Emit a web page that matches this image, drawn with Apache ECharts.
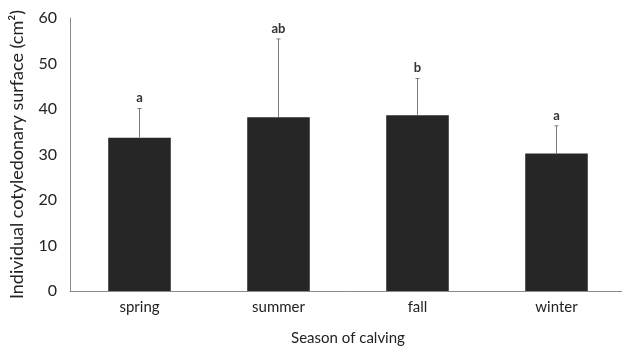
<!DOCTYPE html>
<html>
<head>
<meta charset="utf-8">
<script src="https://cdn.jsdelivr.net/npm/echarts@6/dist/echarts.min.js"></script>
<style>
  html, body { margin: 0; padding: 0; background: #fff; }
  #chart { width: 622px; height: 347px; }
</style>
</head>
<body>
<div id="chart"></div>
<script>
// Mean individual cotyledonary surface by season of calving, with SD and group letters
const seasons = ['spring', 'summer', 'fall', 'winter'];
const meanSurface = [33.7, 38.2, 38.6, 30.2];
const upperError = [40.1, 55.4, 46.7, 36.3];
const groupLetters = ['a', 'ab', 'b', 'a'];
const yTicks = [0, 10, 20, 30, 40, 50, 60];

const FONT = 'Lato, "Open Sans", sans-serif';
const AXIS_GREY = '#8a8a8a';

const chart = echarts.init(document.getElementById('chart'), null, { renderer: 'canvas' });

chart.setOption({
  animation: false,
  backgroundColor: '#ffffff',
  grid: {
    left: 70, right: -4, top: 18, bottom: 56,
    containLabel: false,
    outerBoundsMode: 'none'
  },
  xAxis: {
    type: 'category',
    data: seasons,
    name: 'Season of calving',
    nameLocation: 'middle',
    nameGap: 40,
    nameTextStyle: { fontFamily: FONT, fontSize: 15, color: '#222' },
    axisLine: { lineStyle: { color: AXIS_GREY, width: 1 } },
    axisTick: { show: false },
    axisLabel: { fontFamily: FONT, fontSize: 15, color: '#222', margin: 9 }
  },
  yAxis: {
    type: 'value',
    min: yTicks[0],
    max: yTicks[yTicks.length - 1],
    interval: 10,
    name: 'Individual cotyledonary surface (cm²)',
    nameLocation: 'middle',
    nameGap: 44,
    nameRotate: 90,
    nameTextStyle: { fontFamily: FONT, fontSize: 18, color: '#222' },
    axisLine: { show: true, lineStyle: { color: AXIS_GREY, width: 1 } },
    axisTick: { show: false },
    splitLine: { show: false },
    axisLabel: { fontFamily: FONT, fontSize: 16, color: '#222', margin: 13 }
  },
  series: [
    {
      type: 'bar',
      data: meanSurface,
      barWidth: '45%',
      itemStyle: { color: '#262626' },
      z: 2
    },
    {
      // upward error bars with caps and significance letters
      type: 'custom',
      data: seasons.map((s, i) => [i, meanSurface[i], upperError[i]]),
      z: 3,
      renderItem: function (params, api) {
        const i = api.value(0);
        const base = api.coord([i, api.value(1)]);
        const top = api.coord([i, api.value(2)]);
        const cap = 2;
        return {
          type: 'group',
          children: [
            {
              type: 'line',
              shape: { x1: base[0], y1: base[1], x2: top[0], y2: top[1] },
              style: { stroke: '#7a7a7a', lineWidth: 1 }
            },
            {
              type: 'line',
              shape: { x1: top[0] - cap, y1: top[1], x2: top[0] + cap, y2: top[1] },
              style: { stroke: '#7a7a7a', lineWidth: 1 }
            },
            {
              type: 'text',
              style: {
                x: top[0],
                y: top[1] - 4,
                text: groupLetters[params.dataIndex],
                align: 'center',
                verticalAlign: 'bottom',
                fontFamily: FONT,
                fontSize: 13,
                fontWeight: 'bold',
                fill: '#333'
              }
            }
          ]
        };
      }
    }
  ]
});
</script>
</body>
</html>
